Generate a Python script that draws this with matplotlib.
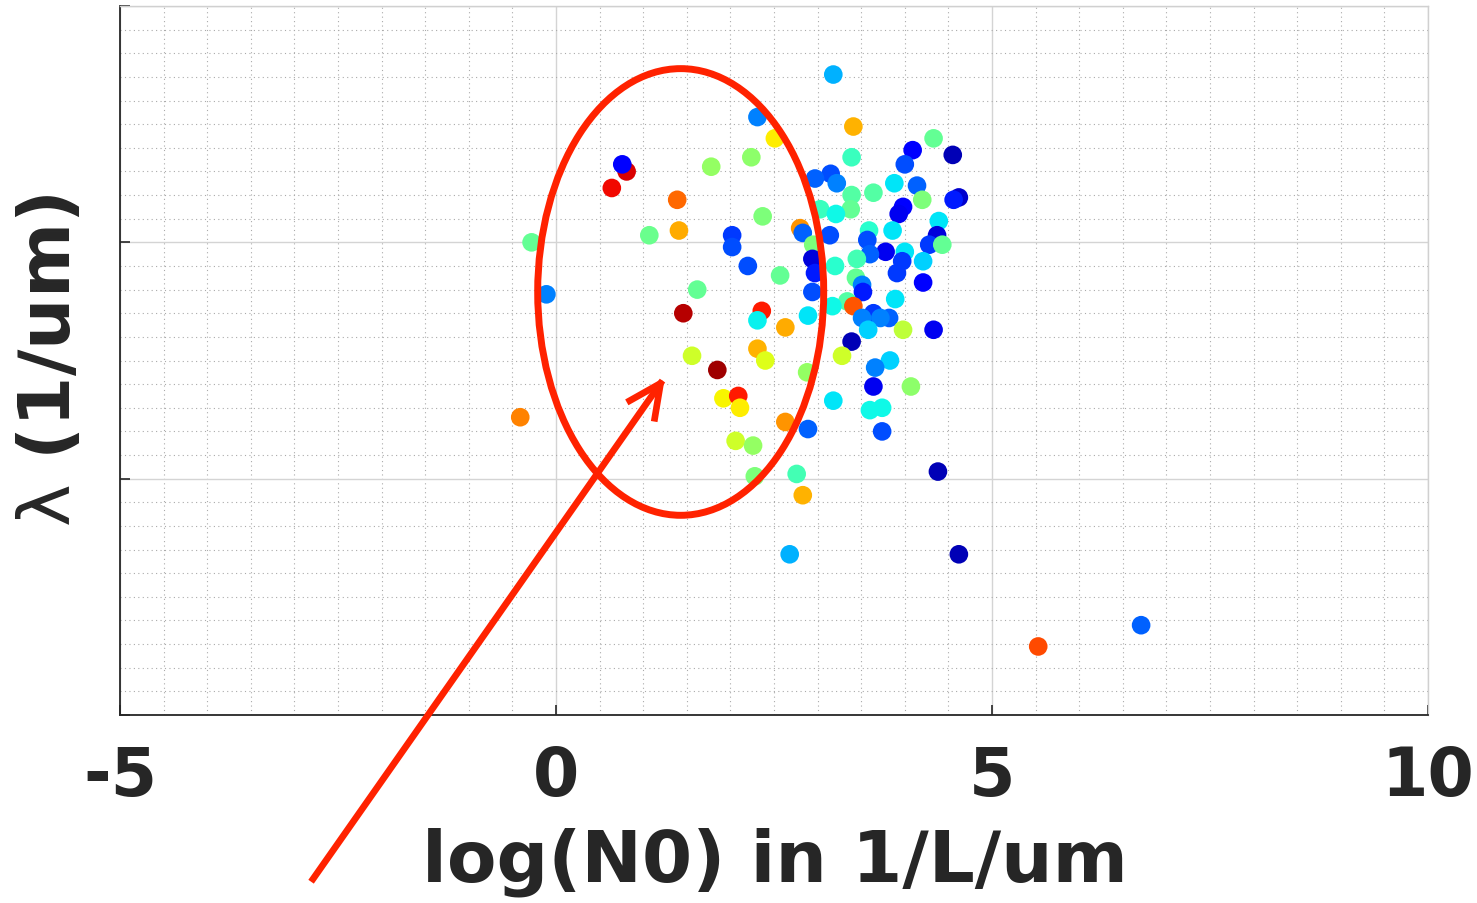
import numpy as np
import matplotlib
matplotlib.use("Agg")
import matplotlib.pyplot as plt
from matplotlib.patches import Ellipse, FancyArrowPatch
from matplotlib.ticker import MultipleLocator

# ---- data ----
log_n0 = [3.18, 2.31, 3.41, 2.51, 4.33, 4.09, 4.55, 3.39, 2.24, 1.78,
          0.81, 0.76, 0.64, 4.00, 3.15, 2.97, 3.22, 3.88, 4.14, 3.64,
          3.39, 4.20, 3.98, 3.93, 4.62, 4.56, 3.38, 3.03, 3.21, 3.59,
          3.86, 4.39, 4.37, 2.80, 2.83, 3.14, 3.57, 4.28, 4.43, 2.95,
          2.94, 3.78, 4.00, 3.60, 3.45, 3.97, 4.21, 2.97, 3.20, 3.91,
          3.44, 3.51, 3.52, 4.21, 2.94, 3.89, 3.34, 3.41, 3.17, 3.64,
          3.82, 3.72, 3.51, 2.89, 3.58, 3.98, 4.33, 3.39, 3.28, 3.83,
          3.66, 2.88, 3.64, 4.07, 3.18, 3.60, 3.74, 2.63, 2.89, 3.74,
          4.38, 2.76, 2.83, 2.68, 4.62, 5.53, 6.71, 2.28, -0.28, -0.11,
          -0.41, 1.62, 1.46, 2.36, 2.31, 2.63, 1.56, 1.85, 2.31, 2.40,
          1.92, 2.09, 2.11, 2.06, 2.26, 1.39, 1.41, 1.07, 2.02, 2.02,
          2.37, 2.20, 2.57]
lam = [2.71, 2.53, 2.49, 2.44, 2.44, 2.39, 2.37, 2.36, 2.36, 2.32,
       2.30, 2.33, 2.23, 2.33, 2.29, 2.27, 2.25, 2.25, 2.24, 2.21,
       2.20, 2.18, 2.15, 2.12, 2.19, 2.18, 2.14, 2.14, 2.12, 2.05,
       2.05, 2.09, 2.03, 2.06, 2.04, 2.03, 2.01, 1.99, 1.99, 1.99,
       1.93, 1.96, 1.96, 1.95, 1.93, 1.92, 1.92, 1.87, 1.90, 1.87,
       1.85, 1.82, 1.79, 1.83, 1.79, 1.76, 1.75, 1.73, 1.73, 1.70,
       1.68, 1.68, 1.68, 1.69, 1.63, 1.63, 1.63, 1.58, 1.52, 1.50,
       1.47, 1.45, 1.39, 1.39, 1.33, 1.29, 1.30, 1.24, 1.21, 1.20,
       1.03, 1.02, 0.93, 0.68, 0.68, 0.29, 0.38, 1.01, 2.00, 1.78,
       1.26, 1.80, 1.70, 1.71, 1.67, 1.64, 1.52, 1.46, 1.55, 1.50,
       1.34, 1.35, 1.30, 1.16, 1.14, 2.18, 2.05, 2.03, 2.03, 1.98,
       2.11, 1.90, 1.86]
color_val = [0.30, 0.25, 0.72, 0.66, 0.47, 0.12, 0.05, 0.42, 0.52, 0.53,
             0.92, 0.12, 0.90, 0.20, 0.20, 0.22, 0.25, 0.35, 0.22, 0.45,
             0.45, 0.50, 0.12, 0.10, 0.07, 0.15, 0.47, 0.42, 0.37, 0.40,
             0.35, 0.35, 0.08, 0.75, 0.22, 0.20, 0.20, 0.18, 0.47, 0.50,
             0.08, 0.10, 0.35, 0.22, 0.43, 0.18, 0.33, 0.15, 0.40, 0.18,
             0.47, 0.25, 0.15, 0.12, 0.20, 0.35, 0.45, 0.82, 0.37, 0.18,
             0.22, 0.25, 0.25, 0.35, 0.33, 0.58, 0.10, 0.05, 0.60, 0.33,
             0.25, 0.53, 0.10, 0.52, 0.35, 0.37, 0.37, 0.75, 0.22, 0.20,
             0.05, 0.43, 0.72, 0.30, 0.05, 0.83, 0.22, 0.50, 0.47, 0.25,
             0.77, 0.47, 0.95, 0.88, 0.36, 0.73, 0.60, 0.97, 0.72, 0.62,
             0.65, 0.88, 0.66, 0.60, 0.53, 0.80, 0.73, 0.48, 0.18, 0.20,
             0.50, 0.20, 0.47]

x_ticks = [-5, 0, 5, 10]
x_ticklabels = ["-5", "0", "5", "10"]
y_ticks = [0, 1, 2, 3]
x_label = "log(N0) in 1/L/um"
y_label = r"$\mathrm{\lambda}$ (1/um)"

# ---- figure ----
txt_color = "#262626"
fig = plt.figure(figsize=(14.77, 9.04), dpi=100)
ax = fig.add_axes([120 / 1477, 188 / 904, 1308 / 1477, 709 / 904])

ax.scatter(log_n0, lam, c=color_val, cmap="jet", vmin=0, vmax=1,
           s=180, edgecolors="none", zorder=3)

ax.set_xlim(-5, 10)
ax.set_ylim(0, 3)
ax.set_xticks(x_ticks)
ax.set_xticklabels(x_ticklabels)
ax.set_yticks(y_ticks)
ax.set_yticklabels([])
ax.xaxis.set_minor_locator(MultipleLocator(0.5))
ax.yaxis.set_minor_locator(MultipleLocator(0.1))

ax.grid(True, which="major", color="#d4d4d4", linewidth=1.0, linestyle="-")
ax.grid(True, which="minor", color="#aaaaaa", linewidth=0.8, linestyle=(0, (1, 3)))
ax.set_axisbelow(True)

ax.tick_params(which="major", direction="in", length=7, width=1.2,
               colors=txt_color, pad=20, labelsize=48)
ax.tick_params(which="minor", length=0)
for lab in ax.get_xticklabels():
    lab.set_fontweight("bold")

for s in ["left", "bottom"]:
    ax.spines[s].set_color(txt_color)
    ax.spines[s].set_linewidth(1.3)
for s in ["top", "right"]:
    ax.spines[s].set_color("#d0d0d0")
    ax.spines[s].set_linewidth(1.0)

ax.set_xlabel(x_label, fontsize=52, fontweight="bold", color=txt_color)
ax.set_ylabel(y_label, fontsize=52, fontweight="bold", color=txt_color)
ax.xaxis.set_label_coords(0.5008, -0.206)
ax.xaxis.label.set_verticalalignment("center")
ax.yaxis.set_label_coords(-0.0535, 0.502)
ax.yaxis.label.set_verticalalignment("center")

# red ellipse annotation
ell = Ellipse((1.43, 1.79), width=3.28, height=1.89, fill=False,
              edgecolor="#ff2200", linewidth=5.0, zorder=4)
ax.add_patch(ell)

# red arrow annotation
arrow = FancyArrowPatch((313 / 1477, 1 - 880 / 904), (665 / 1477, 1 - 378 / 904),
                        transform=fig.transFigure,
                        arrowstyle="->,head_length=23,head_width=11",
                        color="#ff2200", linewidth=4.8, mutation_scale=1,
                        shrinkA=0, shrinkB=0, capstyle="projecting")
fig.patches.append(arrow)

fig.savefig("out.png", dpi=100)
